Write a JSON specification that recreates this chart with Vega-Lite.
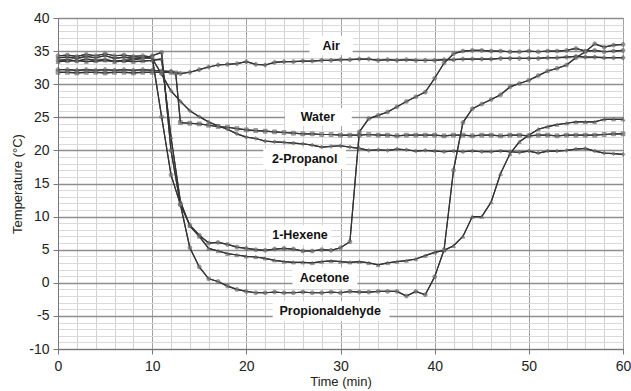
{
"$schema": "https://vega.github.io/schema/vega-lite/v6.json",
"width": 565, "height": 331,
"autosize": {"type": "none"},
"padding": {"left": 58, "top": 18, "right": 8, "bottom": 42},
"background": "white",
"config": {"font": "Liberation Sans", "view": {"stroke": "#9a9a9a", "strokeWidth": 1}},
"datasets": {
"labels": [
{"label":"Air","t":29.0,"T":35.8,"x1":26.7,"x2":31.3,"y1":34.4,"y2":37.3},
{"label":"Water","t":27.6,"T":25.0,"x1":24.1,"x2":31.2,"y1":23.7,"y2":26.4},
{"label":"2-Propanol","t":26.2,"T":18.7,"x1":21.8,"x2":30.6,"y1":17.2,"y2":20.3},
{"label":"1-Hexene","t":25.7,"T":7.2,"x1":22.4,"x2":29.0,"y1":5.7,"y2":8.7},
{"label":"Acetone","t":28.3,"T":0.7,"x1":24.9,"x2":31.8,"y1":-0.9,"y2":2.3},
{"label":"Propionaldehyde","t":28.9,"T":-4.3,"x1":22.8,"x2":35.2,"y1":-5.8,"y2":-2.8}
],
"temps": [
{"s":"Air","t":0,"T":32.2},{"s":"Air","t":1,"T":32.2},{"s":"Air","t":2,"T":32.1},{"s":"Air","t":3,"T":32.2},{"s":"Air","t":4,"T":32.1},{"s":"Air","t":5,"T":32.2},{"s":"Air","t":6,"T":32.1},{"s":"Air","t":7,"T":32.2},{"s":"Air","t":8,"T":32.1},{"s":"Air","t":9,"T":32.2},{"s":"Air","t":10,"T":32.1},{"s":"Air","t":11,"T":32.0},{"s":"Air","t":12,"T":31.9},{"s":"Air","t":13,"T":31.6},{"s":"Air","t":14,"T":31.8},{"s":"Air","t":15,"T":32.2},{"s":"Air","t":16,"T":32.6},{"s":"Air","t":17,"T":32.9},{"s":"Air","t":18,"T":33.0},{"s":"Air","t":19,"T":33.1},{"s":"Air","t":20,"T":33.4},{"s":"Air","t":21,"T":33.0},{"s":"Air","t":22,"T":32.9},{"s":"Air","t":23,"T":33.3},{"s":"Air","t":24,"T":33.4},{"s":"Air","t":25,"T":33.4},{"s":"Air","t":26,"T":33.5},{"s":"Air","t":27,"T":33.5},{"s":"Air","t":28,"T":33.6},{"s":"Air","t":29,"T":33.6},{"s":"Air","t":30,"T":33.7},{"s":"Air","t":31,"T":33.7},{"s":"Air","t":32,"T":33.8},{"s":"Air","t":33,"T":33.8},{"s":"Air","t":34,"T":33.6},{"s":"Air","t":35,"T":33.7},{"s":"Air","t":36,"T":33.6},{"s":"Air","t":37,"T":33.7},{"s":"Air","t":38,"T":33.6},{"s":"Air","t":39,"T":33.6},{"s":"Air","t":40,"T":33.6},{"s":"Air","t":41,"T":33.7},{"s":"Air","t":42,"T":33.7},{"s":"Air","t":43,"T":33.8},{"s":"Air","t":44,"T":33.8},{"s":"Air","t":45,"T":33.8},{"s":"Air","t":46,"T":33.8},{"s":"Air","t":47,"T":33.9},{"s":"Air","t":48,"T":33.9},{"s":"Air","t":49,"T":33.9},{"s":"Air","t":50,"T":33.9},{"s":"Air","t":51,"T":33.9},{"s":"Air","t":52,"T":34.0},{"s":"Air","t":53,"T":34.0},{"s":"Air","t":54,"T":34.1},{"s":"Air","t":55,"T":34.2},{"s":"Air","t":56,"T":34.1},{"s":"Air","t":57,"T":34.1},{"s":"Air","t":58,"T":34.0},{"s":"Air","t":59,"T":34.0},{"s":"Air","t":60,"T":34.0},
{"s":"Water","t":0,"T":31.8},{"s":"Water","t":1,"T":31.8},{"s":"Water","t":2,"T":31.7},{"s":"Water","t":3,"T":31.8},{"s":"Water","t":4,"T":31.8},{"s":"Water","t":5,"T":31.7},{"s":"Water","t":6,"T":31.8},{"s":"Water","t":7,"T":31.8},{"s":"Water","t":8,"T":31.7},{"s":"Water","t":9,"T":31.8},{"s":"Water","t":10,"T":31.8},{"s":"Water","t":11,"T":31.8},{"s":"Water","t":12,"T":31.8},{"s":"Water","t":12.5,"T":31.7},{"s":"Water","t":13,"T":24.2},{"s":"Water","t":14,"T":24.1},{"s":"Water","t":15,"T":24.0},{"s":"Water","t":16,"T":23.8},{"s":"Water","t":17,"T":23.6},{"s":"Water","t":18,"T":23.5},{"s":"Water","t":19,"T":23.3},{"s":"Water","t":20,"T":23.1},{"s":"Water","t":21,"T":23.0},{"s":"Water","t":22,"T":22.9},{"s":"Water","t":23,"T":22.8},{"s":"Water","t":24,"T":22.7},{"s":"Water","t":25,"T":22.6},{"s":"Water","t":26,"T":22.5},{"s":"Water","t":27,"T":22.5},{"s":"Water","t":28,"T":22.4},{"s":"Water","t":29,"T":22.4},{"s":"Water","t":30,"T":22.3},{"s":"Water","t":31,"T":22.3},{"s":"Water","t":32,"T":22.3},{"s":"Water","t":33,"T":22.4},{"s":"Water","t":34,"T":22.3},{"s":"Water","t":35,"T":22.3},{"s":"Water","t":36,"T":22.2},{"s":"Water","t":37,"T":22.3},{"s":"Water","t":38,"T":22.3},{"s":"Water","t":39,"T":22.3},{"s":"Water","t":40,"T":22.3},{"s":"Water","t":41,"T":22.2},{"s":"Water","t":42,"T":22.3},{"s":"Water","t":43,"T":22.3},{"s":"Water","t":44,"T":22.2},{"s":"Water","t":45,"T":22.3},{"s":"Water","t":46,"T":22.3},{"s":"Water","t":47,"T":22.2},{"s":"Water","t":48,"T":22.3},{"s":"Water","t":49,"T":22.3},{"s":"Water","t":50,"T":22.2},{"s":"Water","t":51,"T":22.3},{"s":"Water","t":52,"T":22.3},{"s":"Water","t":53,"T":22.2},{"s":"Water","t":54,"T":22.3},{"s":"Water","t":55,"T":22.3},{"s":"Water","t":56,"T":22.3},{"s":"Water","t":57,"T":22.3},{"s":"Water","t":58,"T":22.4},{"s":"Water","t":59,"T":22.5},{"s":"Water","t":60,"T":22.5},
{"s":"2-Propanol","t":0,"T":34.0},{"s":"2-Propanol","t":1,"T":34.1},{"s":"2-Propanol","t":2,"T":33.9},{"s":"2-Propanol","t":3,"T":34.2},{"s":"2-Propanol","t":4,"T":34.0},{"s":"2-Propanol","t":5,"T":34.3},{"s":"2-Propanol","t":6,"T":33.9},{"s":"2-Propanol","t":7,"T":34.1},{"s":"2-Propanol","t":8,"T":33.9},{"s":"2-Propanol","t":9,"T":34.0},{"s":"2-Propanol","t":10,"T":33.9},{"s":"2-Propanol","t":11,"T":31.5},{"s":"2-Propanol","t":12,"T":29.0},{"s":"2-Propanol","t":13,"T":27.4},{"s":"2-Propanol","t":14,"T":26.0},{"s":"2-Propanol","t":15,"T":25.1},{"s":"2-Propanol","t":16,"T":24.3},{"s":"2-Propanol","t":17,"T":23.7},{"s":"2-Propanol","t":18,"T":23.2},{"s":"2-Propanol","t":19,"T":22.5},{"s":"2-Propanol","t":20,"T":22.0},{"s":"2-Propanol","t":21,"T":21.8},{"s":"2-Propanol","t":22,"T":21.4},{"s":"2-Propanol","t":23,"T":21.3},{"s":"2-Propanol","t":24,"T":21.2},{"s":"2-Propanol","t":25,"T":21.1},{"s":"2-Propanol","t":26,"T":21.0},{"s":"2-Propanol","t":27,"T":20.8},{"s":"2-Propanol","t":28,"T":20.5},{"s":"2-Propanol","t":29,"T":20.6},{"s":"2-Propanol","t":30,"T":20.7},{"s":"2-Propanol","t":31,"T":20.5},{"s":"2-Propanol","t":32,"T":20.3},{"s":"2-Propanol","t":33,"T":20.0},{"s":"2-Propanol","t":34,"T":20.1},{"s":"2-Propanol","t":35,"T":20.0},{"s":"2-Propanol","t":36,"T":20.2},{"s":"2-Propanol","t":37,"T":20.1},{"s":"2-Propanol","t":38,"T":19.9},{"s":"2-Propanol","t":39,"T":20.0},{"s":"2-Propanol","t":40,"T":19.9},{"s":"2-Propanol","t":41,"T":19.8},{"s":"2-Propanol","t":42,"T":19.9},{"s":"2-Propanol","t":43,"T":19.8},{"s":"2-Propanol","t":44,"T":19.9},{"s":"2-Propanol","t":45,"T":19.8},{"s":"2-Propanol","t":46,"T":19.8},{"s":"2-Propanol","t":47,"T":19.9},{"s":"2-Propanol","t":48,"T":19.8},{"s":"2-Propanol","t":49,"T":19.7},{"s":"2-Propanol","t":50,"T":19.9},{"s":"2-Propanol","t":51,"T":19.6},{"s":"2-Propanol","t":52,"T":19.9},{"s":"2-Propanol","t":53,"T":19.9},{"s":"2-Propanol","t":54,"T":20.0},{"s":"2-Propanol","t":55,"T":20.2},{"s":"2-Propanol","t":56,"T":20.3},{"s":"2-Propanol","t":57,"T":19.9},{"s":"2-Propanol","t":58,"T":19.6},{"s":"2-Propanol","t":59,"T":19.5},{"s":"2-Propanol","t":60,"T":19.4},
{"s":"1-Hexene","t":0,"T":33.6},{"s":"1-Hexene","t":1,"T":33.7},{"s":"1-Hexene","t":2,"T":33.5},{"s":"1-Hexene","t":3,"T":33.8},{"s":"1-Hexene","t":4,"T":33.6},{"s":"1-Hexene","t":5,"T":33.7},{"s":"1-Hexene","t":6,"T":33.5},{"s":"1-Hexene","t":7,"T":33.6},{"s":"1-Hexene","t":8,"T":33.7},{"s":"1-Hexene","t":9,"T":33.9},{"s":"1-Hexene","t":10,"T":34.3},{"s":"1-Hexene","t":11,"T":34.8},{"s":"1-Hexene","t":12,"T":20.0},{"s":"1-Hexene","t":13,"T":11.8},{"s":"1-Hexene","t":14,"T":8.7},{"s":"1-Hexene","t":15,"T":7.2},{"s":"1-Hexene","t":16,"T":6.0},{"s":"1-Hexene","t":17,"T":6.1},{"s":"1-Hexene","t":18,"T":5.8},{"s":"1-Hexene","t":19,"T":5.4},{"s":"1-Hexene","t":20,"T":5.2},{"s":"1-Hexene","t":21,"T":5.0},{"s":"1-Hexene","t":22,"T":4.9},{"s":"1-Hexene","t":23,"T":5.1},{"s":"1-Hexene","t":24,"T":5.2},{"s":"1-Hexene","t":25,"T":5.1},{"s":"1-Hexene","t":26,"T":4.8},{"s":"1-Hexene","t":27,"T":4.8},{"s":"1-Hexene","t":28,"T":5.0},{"s":"1-Hexene","t":29,"T":4.9},{"s":"1-Hexene","t":30,"T":5.3},{"s":"1-Hexene","t":31,"T":6.2},{"s":"1-Hexene","t":32,"T":22.8},{"s":"1-Hexene","t":33,"T":24.8},{"s":"1-Hexene","t":34,"T":25.3},{"s":"1-Hexene","t":35,"T":25.8},{"s":"1-Hexene","t":36,"T":26.6},{"s":"1-Hexene","t":37,"T":27.4},{"s":"1-Hexene","t":38,"T":28.1},{"s":"1-Hexene","t":39,"T":28.8},{"s":"1-Hexene","t":40,"T":30.9},{"s":"1-Hexene","t":41,"T":33.2},{"s":"1-Hexene","t":42,"T":34.6},{"s":"1-Hexene","t":43,"T":35.0},{"s":"1-Hexene","t":44,"T":35.1},{"s":"1-Hexene","t":45,"T":35.1},{"s":"1-Hexene","t":46,"T":35.0},{"s":"1-Hexene","t":47,"T":35.0},{"s":"1-Hexene","t":48,"T":34.9},{"s":"1-Hexene","t":49,"T":34.9},{"s":"1-Hexene","t":50,"T":35.0},{"s":"1-Hexene","t":51,"T":34.9},{"s":"1-Hexene","t":52,"T":35.0},{"s":"1-Hexene","t":53,"T":35.0},{"s":"1-Hexene","t":54,"T":35.1},{"s":"1-Hexene","t":55,"T":35.4},{"s":"1-Hexene","t":56,"T":35.0},{"s":"1-Hexene","t":57,"T":35.1},{"s":"1-Hexene","t":58,"T":34.9},{"s":"1-Hexene","t":59,"T":35.0},{"s":"1-Hexene","t":60,"T":35.1},
{"s":"Acetone","t":0,"T":33.4},{"s":"Acetone","t":1,"T":33.5},{"s":"Acetone","t":2,"T":33.6},{"s":"Acetone","t":3,"T":33.4},{"s":"Acetone","t":4,"T":33.5},{"s":"Acetone","t":5,"T":33.6},{"s":"Acetone","t":6,"T":33.4},{"s":"Acetone","t":7,"T":33.5},{"s":"Acetone","t":8,"T":33.4},{"s":"Acetone","t":9,"T":33.5},{"s":"Acetone","t":10,"T":33.6},{"s":"Acetone","t":11,"T":33.8},{"s":"Acetone","t":12,"T":22.0},{"s":"Acetone","t":13,"T":12.3},{"s":"Acetone","t":14,"T":8.6},{"s":"Acetone","t":15,"T":7.0},{"s":"Acetone","t":16,"T":5.2},{"s":"Acetone","t":17,"T":4.8},{"s":"Acetone","t":18,"T":4.4},{"s":"Acetone","t":19,"T":4.2},{"s":"Acetone","t":20,"T":4.0},{"s":"Acetone","t":21,"T":3.9},{"s":"Acetone","t":22,"T":3.7},{"s":"Acetone","t":23,"T":3.4},{"s":"Acetone","t":24,"T":3.2},{"s":"Acetone","t":25,"T":3.1},{"s":"Acetone","t":26,"T":3.1},{"s":"Acetone","t":27,"T":3.0},{"s":"Acetone","t":28,"T":3.2},{"s":"Acetone","t":29,"T":3.3},{"s":"Acetone","t":30,"T":3.2},{"s":"Acetone","t":31,"T":3.1},{"s":"Acetone","t":32,"T":3.2},{"s":"Acetone","t":33,"T":3.0},{"s":"Acetone","t":34,"T":2.7},{"s":"Acetone","t":35,"T":3.0},{"s":"Acetone","t":36,"T":3.2},{"s":"Acetone","t":37,"T":3.35},{"s":"Acetone","t":38,"T":3.6},{"s":"Acetone","t":39,"T":4.1},{"s":"Acetone","t":40,"T":4.6},{"s":"Acetone","t":41,"T":4.9},{"s":"Acetone","t":42,"T":5.6},{"s":"Acetone","t":43,"T":7.0},{"s":"Acetone","t":44,"T":10.0},{"s":"Acetone","t":45,"T":10.0},{"s":"Acetone","t":46,"T":12.2},{"s":"Acetone","t":47,"T":16.5},{"s":"Acetone","t":48,"T":19.5},{"s":"Acetone","t":49,"T":21.3},{"s":"Acetone","t":50,"T":22.3},{"s":"Acetone","t":51,"T":23.2},{"s":"Acetone","t":52,"T":23.6},{"s":"Acetone","t":53,"T":23.9},{"s":"Acetone","t":54,"T":24.1},{"s":"Acetone","t":55,"T":24.3},{"s":"Acetone","t":56,"T":24.3},{"s":"Acetone","t":57,"T":24.3},{"s":"Acetone","t":58,"T":24.7},{"s":"Acetone","t":59,"T":24.7},{"s":"Acetone","t":60,"T":24.7},
{"s":"Propionaldehyde","t":0,"T":34.3},{"s":"Propionaldehyde","t":1,"T":34.4},{"s":"Propionaldehyde","t":2,"T":34.2},{"s":"Propionaldehyde","t":3,"T":34.5},{"s":"Propionaldehyde","t":4,"T":34.3},{"s":"Propionaldehyde","t":5,"T":34.6},{"s":"Propionaldehyde","t":6,"T":34.3},{"s":"Propionaldehyde","t":7,"T":34.4},{"s":"Propionaldehyde","t":8,"T":34.2},{"s":"Propionaldehyde","t":9,"T":34.3},{"s":"Propionaldehyde","t":10,"T":34.1},{"s":"Propionaldehyde","t":11,"T":25.1},{"s":"Propionaldehyde","t":12,"T":16.3},{"s":"Propionaldehyde","t":13,"T":11.8},{"s":"Propionaldehyde","t":14,"T":5.3},{"s":"Propionaldehyde","t":15,"T":2.4},{"s":"Propionaldehyde","t":16,"T":0.6},{"s":"Propionaldehyde","t":17,"T":0.2},{"s":"Propionaldehyde","t":18,"T":-0.5},{"s":"Propionaldehyde","t":19,"T":-1.0},{"s":"Propionaldehyde","t":20,"T":-1.3},{"s":"Propionaldehyde","t":21,"T":-1.5},{"s":"Propionaldehyde","t":22,"T":-1.5},{"s":"Propionaldehyde","t":23,"T":-1.4},{"s":"Propionaldehyde","t":24,"T":-1.5},{"s":"Propionaldehyde","t":25,"T":-1.5},{"s":"Propionaldehyde","t":26,"T":-1.4},{"s":"Propionaldehyde","t":27,"T":-1.5},{"s":"Propionaldehyde","t":28,"T":-1.5},{"s":"Propionaldehyde","t":29,"T":-1.4},{"s":"Propionaldehyde","t":30,"T":-1.5},{"s":"Propionaldehyde","t":31,"T":-1.3},{"s":"Propionaldehyde","t":32,"T":-1.4},{"s":"Propionaldehyde","t":33,"T":-1.4},{"s":"Propionaldehyde","t":34,"T":-1.3},{"s":"Propionaldehyde","t":35,"T":-1.3},{"s":"Propionaldehyde","t":36,"T":-1.3},{"s":"Propionaldehyde","t":37,"T":-2.0},{"s":"Propionaldehyde","t":38,"T":-1.3},{"s":"Propionaldehyde","t":39,"T":-1.8},{"s":"Propionaldehyde","t":40,"T":0.9},{"s":"Propionaldehyde","t":41,"T":5.0},{"s":"Propionaldehyde","t":42,"T":17.0},{"s":"Propionaldehyde","t":43,"T":24.2},{"s":"Propionaldehyde","t":44,"T":26.3},{"s":"Propionaldehyde","t":45,"T":27.0},{"s":"Propionaldehyde","t":46,"T":27.7},{"s":"Propionaldehyde","t":47,"T":28.4},{"s":"Propionaldehyde","t":48,"T":29.6},{"s":"Propionaldehyde","t":49,"T":30.1},{"s":"Propionaldehyde","t":50,"T":30.6},{"s":"Propionaldehyde","t":51,"T":31.3},{"s":"Propionaldehyde","t":52,"T":32.0},{"s":"Propionaldehyde","t":53,"T":32.4},{"s":"Propionaldehyde","t":54,"T":32.9},{"s":"Propionaldehyde","t":55,"T":34.0},{"s":"Propionaldehyde","t":56,"T":34.9},{"s":"Propionaldehyde","t":57,"T":36.1},{"s":"Propionaldehyde","t":58,"T":35.6},{"s":"Propionaldehyde","t":59,"T":35.9},{"s":"Propionaldehyde","t":60,"T":36.0}
]
},
"layer": [
{
"data": {"name": "temps"},
"mark": {"type": "line", "color": "#333333", "strokeWidth": 1.2},
"encoding": {
"x": {"field": "t", "type": "quantitative", "scale": {"domain": [0, 60], "nice": false, "zero": false},
 "axis": {"title": "Time (min)", "values": [0,2,4,6,8,10,12,14,16,18,20,22,24,26,28,30,32,34,36,38,40,42,44,46,48,50,52,54,56,58,60],
  "tickCount": 100, "format": "d",
  "labelExpr": "datum.value % 10 === 0 ? datum.label : ''", "labelOverlap": false, "labelFlush": false,
  "grid": true,
  "gridColor": {"condition": {"test": "datum.value % 10 === 0", "value": "#a0a0a0"}, "value": "#d2d2d2"},
  "tickColor": {"condition": {"test": "datum.value % 10 === 0", "value": "#777777"}, "value": "transparent"},
  "tickSize": 5, "labelPadding": 5, "labelFontSize": 14, "labelColor": "#222222",
  "titleFontSize": 13, "titleFontWeight": "normal", "titleColor": "#222222", "titlePadding": 2,
  "domainColor": "#777777"}},
"y": {"field": "T", "type": "quantitative", "scale": {"domain": [-10, 40], "nice": false, "zero": false},
 "axis": {"title": "Temperature (°C)", "values": [-10,-9,-8,-7,-6,-5,-4,-3,-2,-1,0,1,2,3,4,5,6,7,8,9,10,11,12,13,14,15,16,17,18,19,20,21,22,23,24,25,26,27,28,29,30,31,32,33,34,35,36,37,38,39,40],
  "tickCount": 100, "format": "d",
  "labelExpr": "datum.value % 5 === 0 ? '' + datum.value : ''", "labelOverlap": false, "labelFlush": false,
  "grid": true,
  "gridColor": {"condition": {"test": "datum.value % 5 === 0", "value": "#8e8e8e"}, "value": "#dadada"},
  "gridWidth": {"condition": {"test": "datum.value % 5 === 0", "value": 1.4}, "value": 1},
  "tickColor": {"condition": {"test": "datum.value % 5 === 0", "value": "#777777"}, "value": "transparent"},
  "tickSize": 5, "labelPadding": 4, "labelFontSize": 14, "labelColor": "#222222",
  "titleFontSize": 13, "titleFontWeight": "normal", "titleColor": "#222222", "titlePadding": 4,
  "domainColor": "#777777"}},
"detail": {"field": "s", "type": "nominal"}
}
},
{
"data": {"name": "labels"},
"mark": {"type": "rect", "fill": "white"},
"encoding": {
"x": {"field": "x1", "type": "quantitative", "scale": {"domain": [0, 60], "nice": false, "zero": false}},
"x2": {"field": "x2"},
"y": {"field": "y1", "type": "quantitative", "scale": {"domain": [-10, 40], "nice": false, "zero": false}},
"y2": {"field": "y2"}
}
},
{
"data": {"name": "temps"},
"mark": {"type": "line", "color": "#333333", "strokeWidth": 1.2},
"encoding": {
"x": {"field": "t", "type": "quantitative", "scale": {"domain": [0, 60], "nice": false, "zero": false}},
"y": {"field": "T", "type": "quantitative", "scale": {"domain": [-10, 40], "nice": false, "zero": false}},
"detail": {"field": "s", "type": "nominal"}
}
},
{
"data": {"name": "temps"},
"mark": {"type": "point", "filled": true, "size": 16, "color": "#7a7a7a", "stroke": "#444444", "strokeWidth": 0.6},
"encoding": {
"x": {"field": "t", "type": "quantitative", "scale": {"domain": [0, 60], "nice": false, "zero": false}},
"y": {"field": "T", "type": "quantitative", "scale": {"domain": [-10, 40], "nice": false, "zero": false}},
"shape": {"field": "s", "type": "nominal", "legend": null,
 "scale": {"domain": ["Air","Water","2-Propanol","1-Hexene","Acetone","Propionaldehyde"], "range": ["cross","square","diamond","circle","triangle-up","circle"]}}
}
},
{
"data": {"name": "labels"},
"mark": {"type": "text", "fontWeight": "bold", "fontSize": 12.5, "color": "#111111", "align": "center", "baseline": "middle"},
"encoding": {
"x": {"field": "t", "type": "quantitative", "scale": {"domain": [0, 60], "nice": false, "zero": false}},
"y": {"field": "T", "type": "quantitative", "scale": {"domain": [-10, 40], "nice": false, "zero": false}},
"text": {"field": "label", "type": "nominal"}
}
}
]
}
